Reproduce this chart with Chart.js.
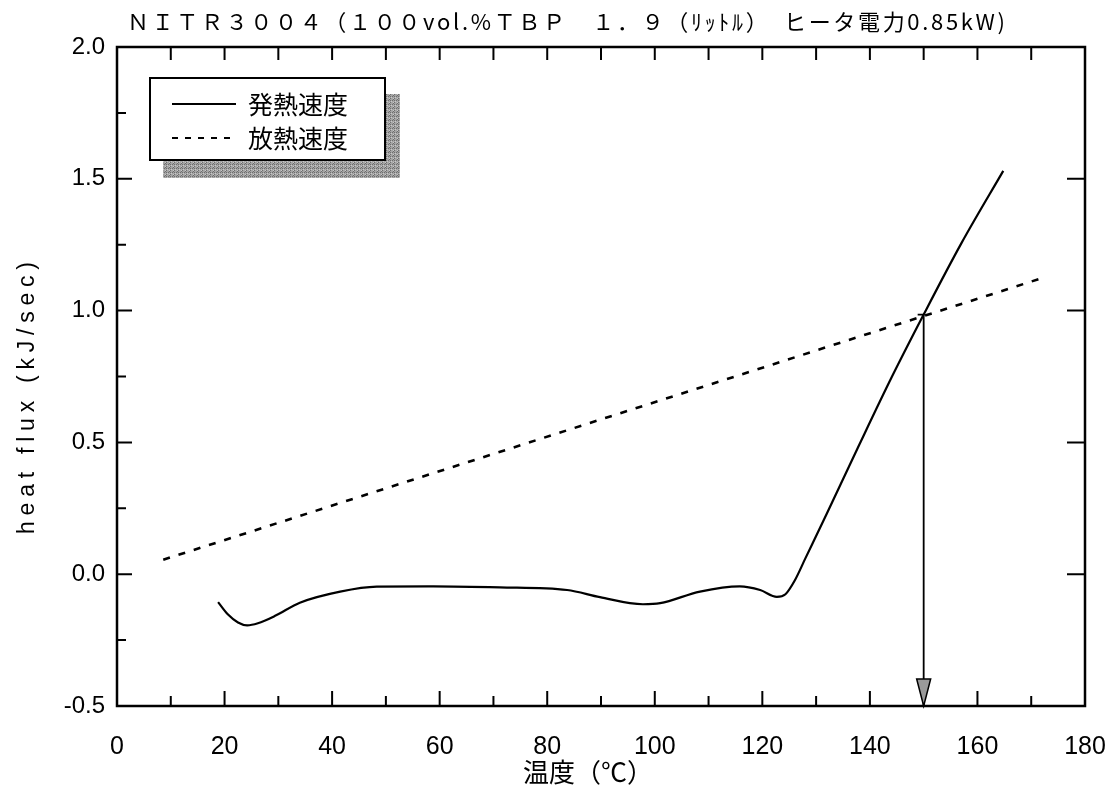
<!DOCTYPE html>
<html>
<head>
<meta charset="utf-8">
<script src="https://cdn.jsdelivr.net/npm/chart.js@4.4.1/dist/chart.umd.min.js"></script>
<style>
  html, body { margin: 0; padding: 0; background: #ffffff; }
  #wrap { width: 1112px; height: 792px; position: relative; }
</style>
</head>
<body>
<div id="wrap"><canvas id="c" width="1112" height="792"></canvas></div>
<script>
// ---- texts ----
const titleText = 'ＮＩＴＲ３００４（１００vol.%ＴＢＰ　１．９（ﾘｯﾄﾙ）　ヒータ電力0.85kW)';
const xAxisTitle = '温度（℃）';
const yAxisTitle = 'heat flux (kJ/sec)';
const seriesNames = ['発熱速度', '放熱速度'];

// ---- heat generation rate (solid) ----
const genTemp = [18.8, 20.6, 22.5, 24.2, 26.2, 29.4, 34.0, 41.5, 48.3, 58.8, 71.2, 83.7, 89.8, 97.8, 101.0,
                 108.4, 115.8, 119.6, 122.7, 124.3, 126.0, 128.0, 132.0, 138.0, 144.0, 150.0, 157.0, 164.8];
const genFlux = [-0.106, -0.152, -0.183, -0.194, -0.186, -0.158, -0.108, -0.066, -0.047, -0.046, -0.050, -0.060, -0.087, -0.114, -0.110,
                 -0.066, -0.046, -0.060, -0.086, -0.076, -0.025, 0.060, 0.230, 0.490, 0.745, 0.985, 1.255, 1.530];

// ---- heat removal rate (dashed) ----
const lossTemp = [8.6, 171.5];
const lossFlux = [0.055, 1.120];

// ---- marker arrow at the crossing point ----
const arrowTemp = 150;
const arrowFlux = 0.985;

// ---- axis ranges and tick values ----
const xMin = 0, xMax = 180, xStep = 20;
const yMin = -0.5, yMax = 2.0, yStep = 0.5;
const xBottomMajor = [20, 40, 60, 80, 100, 120, 140, 160];
const xBottomMinor = [10, 30, 50, 70, 90, 110, 130, 150, 170];
const xTopTicks = [10, 20, 30, 40, 50, 60, 70, 80, 90, 100, 110, 120, 130, 140, 150, 160, 170];
const yLeftMajor = [1.5, 1.0, 0.5, 0.0];
const yLeftMinor = [1.75, 1.25, 0.75, 0.25, -0.25];
const yRightTicks = [1.5, 1.0, 0.5, 0.0];

const toPoints = (xs, ys) => xs.map((x, i) => ({ x: x, y: ys[i] }));

// shadow texture for the legend box
function makeShadowPattern(ctx) {
  const p = document.createElement('canvas');
  p.width = 4; p.height = 4;
  const g = p.getContext('2d');
  g.fillStyle = '#a4a4a4';
  g.fillRect(0, 0, 4, 4);
  g.fillStyle = '#6e6e6e';
  g.fillRect(0, 0, 1, 1); g.fillRect(2, 2, 1, 1);
  g.fillRect(2, 0, 1, 1); g.fillRect(1, 3, 1, 1);
  g.fillStyle = '#c8c8c8';
  g.fillRect(3, 1, 1, 1); g.fillRect(1, 2, 1, 1);
  return ctx.createPattern(p, 'repeat');
}

function spacedText(ctx, text, x, y, targetWidth, align) {
  ctx.letterSpacing = '0px';
  const w = ctx.measureText(text).width;
  const n = [...text].length;
  const sp = Math.max(0, (targetWidth - w) / (n - 1));
  ctx.letterSpacing = sp + 'px';
  let startX = x;
  if (align === 'center') startX = x - targetWidth / 2;
  ctx.textAlign = 'left';
  ctx.fillText(text, startX, y);
  ctx.letterSpacing = '0px';
}

const decor = {
  id: 'decor',
  afterDatasetsDraw(chart) {
    const ctx = chart.ctx;
    const xs = chart.scales.x, ys = chart.scales.y;
    const a = chart.chartArea;
    ctx.save();
    ctx.strokeStyle = '#000';
    ctx.fillStyle = '#000';

    // frame
    ctx.lineWidth = 2.5;
    ctx.strokeRect(a.left, a.top, a.right - a.left, a.bottom - a.top);

    // inward ticks
    ctx.lineWidth = 2;
    ctx.beginPath();
    xBottomMajor.forEach(v => { const p = xs.getPixelForValue(v); ctx.moveTo(p, a.bottom); ctx.lineTo(p, a.bottom - 15); });
    xBottomMinor.forEach(v => { const p = xs.getPixelForValue(v); ctx.moveTo(p, a.bottom); ctx.lineTo(p, a.bottom - 10); });
    xTopTicks.forEach(v => { const p = xs.getPixelForValue(v); ctx.moveTo(p, a.top); ctx.lineTo(p, a.top + 13); });
    yLeftMajor.forEach(v => { const p = ys.getPixelForValue(v); ctx.moveTo(a.left, p); ctx.lineTo(a.left + 15, p); });
    yLeftMinor.forEach(v => { const p = ys.getPixelForValue(v); ctx.moveTo(a.left, p); ctx.lineTo(a.left + 9, p); });
    yRightTicks.forEach(v => { const p = ys.getPixelForValue(v); ctx.moveTo(a.right, p); ctx.lineTo(a.right - 18, p); });
    ctx.stroke();

    // arrow from the crossing point down to the axis
    const ax = xs.getPixelForValue(arrowTemp);
    const aTop = ys.getPixelForValue(arrowFlux);
    const aBot = ys.getPixelForValue(yMin);
    ctx.lineWidth = 1.8;
    ctx.beginPath();
    ctx.moveTo(ax - 6, aTop); ctx.lineTo(ax + 1, aTop);
    ctx.moveTo(ax, aTop); ctx.lineTo(ax, aBot - 26);
    ctx.stroke();
    ctx.beginPath();
    ctx.moveTo(ax - 7, aBot - 27);
    ctx.lineTo(ax + 7, aBot - 27);
    ctx.lineTo(ax, aBot);
    ctx.closePath();
    ctx.fillStyle = '#9a9a9a';
    ctx.fill();
    ctx.lineWidth = 1.5;
    ctx.stroke();

    // legend box with drop shadow
    const L = { l: 150, t: 78, r: 385, b: 160 };
    ctx.fillStyle = makeShadowPattern(ctx);
    ctx.fillRect(L.l + 13, L.t + 16, (L.r - L.l) + 2, (L.b - L.t) + 2);
    ctx.fillStyle = '#ffffff';
    ctx.fillRect(L.l, L.t, L.r - L.l, L.b - L.t);
    ctx.lineWidth = 2;
    ctx.strokeStyle = '#000';
    ctx.strokeRect(L.l, L.t, L.r - L.l, L.b - L.t);

    const rows = [104, 138];
    ctx.lineWidth = 2;
    ctx.beginPath(); ctx.moveTo(172, rows[0]); ctx.lineTo(236, rows[0]); ctx.stroke();
    ctx.setLineDash([6, 7]);
    ctx.beginPath(); ctx.moveTo(172, rows[1]); ctx.lineTo(236, rows[1]); ctx.stroke();
    ctx.setLineDash([]);
    ctx.fillStyle = '#000';
    ctx.font = '25px "Noto Sans CJK JP"';
    ctx.textBaseline = 'middle';
    ctx.textAlign = 'left';
    ctx.fillText(seriesNames[0], 248, rows[0]);
    ctx.fillText(seriesNames[1], 248, rows[1]);

    // chart title
    ctx.font = '22px "Noto Sans CJK JP"';
    ctx.textBaseline = 'middle';
    spacedText(ctx, titleText, 127, 22, 878, 'left');

    // x axis title
    ctx.font = '26px "Noto Sans CJK JP"';
    ctx.textAlign = 'center';
    ctx.fillText(xAxisTitle, 588, 772);

    // y axis title
    ctx.save();
    ctx.translate(28, 398);
    ctx.rotate(-Math.PI / 2);
    ctx.font = '23px "Liberation Sans"';
    ctx.textBaseline = 'middle';
    spacedText(ctx, yAxisTitle, 0, 0, 272, 'center');
    ctx.restore();

    ctx.restore();
  }
};

new Chart(document.getElementById('c'), {
  type: 'line',
  data: {
    datasets: [
      {
        label: seriesNames[0],
        data: toPoints(genTemp, genFlux),
        borderColor: '#000',
        borderWidth: 2.2,
        pointRadius: 0,
        cubicInterpolationMode: 'monotone',
        fill: false
      },
      {
        label: seriesNames[1],
        data: toPoints(lossTemp, lossFlux),
        borderColor: '#000',
        borderWidth: 2.6,
        borderDash: [7, 9],
        pointRadius: 0,
        fill: false
      }
    ]
  },
  options: {
    responsive: false,
    animation: false,
    devicePixelRatio: 1,
    layout: { padding: { top: 47, right: 27, left: 0, bottom: 0 } },
    plugins: { legend: { display: false }, tooltip: { enabled: false }, title: { display: false } },
    scales: {
      x: {
        type: 'linear', min: xMin, max: xMax,
        afterFit: s => { s.height = 86; s.paddingLeft = 0; s.paddingRight = 0; },
        grid: { display: false, drawTicks: false },
        border: { display: false },
        ticks: {
          stepSize: xStep, color: '#000', padding: 26,
          font: { family: "'Liberation Sans Narrow', 'Liberation Sans'", size: 25 },
          maxRotation: 0
        }
      },
      y: {
        type: 'linear', min: yMin, max: yMax,
        afterFit: s => { s.width = 117; s.paddingTop = 0; s.paddingBottom = 0; },
        grid: { display: false, drawTicks: false },
        border: { display: false },
        ticks: {
          stepSize: yStep, color: '#000', padding: 12,
          font: { family: "'Liberation Sans'", size: 24 },
          callback: v => Number(v).toFixed(1)
        }
      }
    }
  },
  plugins: [decor]
});
</script>
</body>
</html>
